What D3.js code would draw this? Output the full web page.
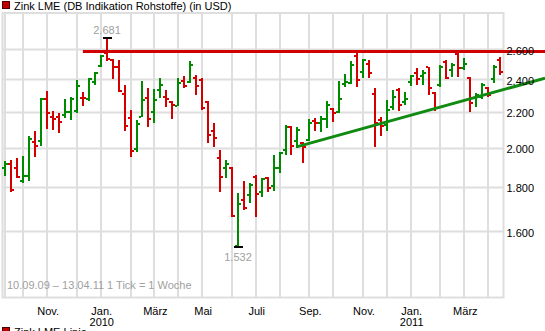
<!DOCTYPE html>
<html>
<head>
<meta charset="utf-8">
<script src="https://cdn.jsdelivr.net/npm/d3@7"></script>
<style>
  body { margin: 0; background: #fff; }
  svg text { font-family: "Liberation Sans", Arial, sans-serif; font-size: 11px; }
</style>
</head>
<body>
<svg id="chart" width="545" height="331"></svg>
<script>
// Weekly OHLC quotes, zinc LME (USD/t), week starting Monday 07.09.2009
const firstMonday = new Date(2009, 8, 7);
const opens  = [1892,1912,1892,1829,1853,2031,2035,2275,2170,2168,2182,2201,2207,2285,2275,2385,2486,2575,2530,2482,
                2308,2164,1992,2172,2281,2200,2332,2290,2261,2237,2391,2381,2406,2395,2261,2090,1943,1892,1895,1537,
                1738,1762,1850,1777,1842,1806,1892,1987,2110,2035,2026,2040,2147,2137,2157,2217,2201,2370,2378,2554,
                2449,2500,2308,2153,2124,2231,2332,2257,2383,2439,2420,2478,2312,2364,2516,2460,2568,2474,2410,2281,
                2289,2343,2400,2524];
const highs  = [1929,1934,1943,1955,2062,2090,2282,2326,2205,2191,2277,2287,2395,2318,2406,2449,2561,2681,2532,2527,
                2364,2211,2153,2389,2343,2337,2410,2332,2267,2406,2421,2520,2428,2406,2265,2134,1987,1934,1900,1770,
                1830,1817,1858,1842,1850,1960,1978,2124,2118,2110,2031,2157,2166,2176,2267,2221,2389,2432,2520,2573,
                2532,2527,2343,2172,2271,2332,2343,2322,2428,2474,2460,2482,2322,2494,2527,2509,2577,2539,2417,2312,
                2374,2353,2494,2547];
const lows   = [1855,1774,1845,1820,1830,1951,2010,2101,2096,2081,2162,2153,2191,2236,2267,2364,2482,2520,2400,2322,
                2092,1950,1976,2168,2114,2134,2281,2231,2157,2235,2343,2374,2301,2211,2022,2004,1777,1842,1662,1532,
                1692,1723,1659,1753,1777,1782,1867,1960,1960,2000,1920,2035,2092,2086,2105,2143,2191,2353,2370,2353,
                2410,2410,2001,2062,2092,2211,2205,2241,2357,2364,2364,2301,2205,2353,2400,2417,2413,2460,2201,2231,
                2275,2287,2374,2428];
const closes = [1912,1784,1850,1853,2044,2008,2275,2191,2157,2139,2197,2277,2357,2280,2402,2439,2554,2535,2482,2328,
                2118,1979,2128,2271,2157,2270,2364,2278,2241,2374,2357,2496,2357,2220,2068,2050,1847,1912,1665,1720,
                1700,1809,1766,1837,1793,1892,1969,2110,2008,2096,2004,2134,2134,2157,2241,2195,2277,2383,2494,2395,
                2527,2439,2134,2118,2211,2287,2241,2277,2424,2400,2440,2343,2221,2482,2410,2494,2472,2500,2254,2301,
                2364,2301,2478,2447];

// Price axis and calendar axis labels
const priceTicks = [1600, 1800, 2000, 2200, 2400, 2600];
const monthLabels = ["Nov.", "Jan.", "März", "Mai", "Juli", "Sep.", "Nov.", "Jan.", "März"];
const monthLabelDates = ["2009-11", "2010-01", "2010-03", "2010-05", "2010-07", "2010-09", "2010-11", "2011-01", "2011-03"];
const yearLabels = ["", "2010", "", "", "", "", "", "2011", ""];

// Drawn trend lines: resistance level and rising support line (week index, price)
const resistanceStart = 13, resistanceLevel = 2585;
const supportWeeks = [49, 83];
const supportPrices = [2005, 2329];

const titleText = "Zink LME (DB Indikation Rohstoffe) (in USD)";
const rangeText = "10.09.09 \u2013 13.04.11   1 Tick = 1 Woche";
const legendText = "Zink LME Linie";

const UP = "#008a00", DOWN = "#d40000", GRID = "#dedede";
const de = d3.formatLocale({decimal: ",", thousands: ".", grouping: [3], currency: ["", " $"]});
const fmt = de.format(",d");

const svg = d3.select("#chart");
const n = opens.length;
const plot = {left: 2.5, right: 503.5, top: 13, bottom: 297.5};

const x = d3.scaleLinear().domain([0, n - 1]).range([5.4, 500.1]);
const y = d3.scaleLog().domain([1339, 2865]).range([297.7, 13]);

const weekEnd = i => d3.timeDay.offset(d3.timeWeek.offset(firstMonday, i), 6);
const monthKey = d3.timeFormat("%Y-%m");

// first bar of every calendar month
const monthStarts = d3.range(n).filter(i => i === 0 || monthKey(weekEnd(i)) !== monthKey(weekEnd(i - 1)));

// grid
const grid = svg.append("g");
grid.selectAll("line.h").data(priceTicks).join("line")
  .attr("x1", plot.left).attr("x2", plot.right)
  .attr("y1", d => Math.round(y(d)) + 0.5).attr("y2", d => Math.round(y(d)) + 0.5)
  .attr("stroke", GRID).attr("stroke-width", 2);
grid.selectAll("line.v").data(monthStarts).join("line")
  .attr("x1", d => Math.round(x(d))).attr("x2", d => Math.round(x(d)))
  .attr("y1", plot.top).attr("y2", plot.bottom)
  .attr("stroke", GRID).attr("stroke-width", 2);
svg.append("rect")
  .attr("x", plot.left).attr("y", plot.top)
  .attr("width", plot.right - plot.left).attr("height", plot.bottom - plot.top)
  .attr("fill", "none").attr("stroke", GRID).attr("stroke-width", 2);

// range note inside the plot
svg.append("text").attr("x", 7).attr("y", 289).attr("fill", "#a0a0a0").text(rangeText);

// OHLC bars
const bars = svg.append("g").attr("shape-rendering", "crispEdges");
d3.range(n).forEach(i => {
  const cx = Math.round(x(i));
  const col = closes[i] >= opens[i] ? UP : DOWN;
  const yh = Math.round(y(highs[i])), yl = Math.round(y(lows[i]));
  bars.append("rect").attr("x", cx - 1).attr("y", yh).attr("width", 2).attr("height", Math.max(2, yl - yh)).attr("fill", col);
  bars.append("rect").attr("x", cx - 3).attr("y", Math.round(y(opens[i])) - 1).attr("width", 2).attr("height", 2).attr("fill", col);
  bars.append("rect").attr("x", cx + 1).attr("y", Math.round(y(closes[i])) - 1).attr("width", 2).attr("height", 2).attr("fill", col);
});

// resistance line
svg.append("line")
  .attr("x1", x(resistanceStart)).attr("x2", 545)
  .attr("y1", y(resistanceLevel)).attr("y2", y(resistanceLevel))
  .attr("stroke", "#d00000").attr("stroke-width", 3);

// support line, extended to the right edge
const sx0 = x(supportWeeks[0]), sy0 = y(supportPrices[0]);
const sx1 = x(supportWeeks[1]), sy1 = y(supportPrices[1]);
const slope = (sy1 - sy0) / (sx1 - sx0);
svg.append("line")
  .attr("x1", sx0).attr("y1", sy0)
  .attr("x2", 545).attr("y2", sy0 + slope * (545 - sx0))
  .attr("stroke", "#108a10").attr("stroke-width", 3);

// extreme markers
const iMax = d3.maxIndex(highs), iMin = d3.minIndex(lows);
[[iMax, highs[iMax], -1], [iMin, lows[iMin], 1]].forEach(([i, v, dir]) => {
  const cx = Math.round(x(i)), yy = Math.round(y(v));
  svg.append("rect").attr("x", cx - 4).attr("y", yy - 1).attr("width", 9).attr("height", 2).attr("fill", "#000");
  svg.append("text").attr("x", cx).attr("y", dir < 0 ? yy - 4 : yy + 14)
    .attr("text-anchor", "middle").attr("fill", "#a0a0a0").text(fmt(v));
});

// price labels
svg.selectAll("text.py").data(priceTicks).join("text")
  .attr("x", 506.5).attr("y", d => y(d) + 5.5).attr("fill", "#000").text(d => fmt(d));

// month labels
monthLabelDates.forEach((m, k) => {
  const i = monthStarts.find(j => monthKey(weekEnd(j)) === m);
  const cx = x(i);
  svg.append("text").attr("x", cx + 1).attr("y", 314.5).attr("text-anchor", "middle").text(monthLabels[k]);
  if (yearLabels[k]) svg.append("text").attr("x", cx + 1).attr("y", 325.5).attr("text-anchor", "middle").text(yearLabels[k]);
});

// title and legend
svg.append("rect").attr("x", 2.5).attr("y", 1.5).attr("width", 7).attr("height", 7)
  .attr("fill", "#c00000").attr("stroke", "#500000");
svg.append("text").attr("x", 14).attr("y", 9.5).text(titleText);
svg.append("rect").attr("x", 2.5).attr("y", 327.5).attr("width", 7).attr("height", 7)
  .attr("fill", "#c00000").attr("stroke", "#500000");
svg.append("text").attr("x", 14).attr("y", 336).text(legendText);
</script>
</body>
</html>
